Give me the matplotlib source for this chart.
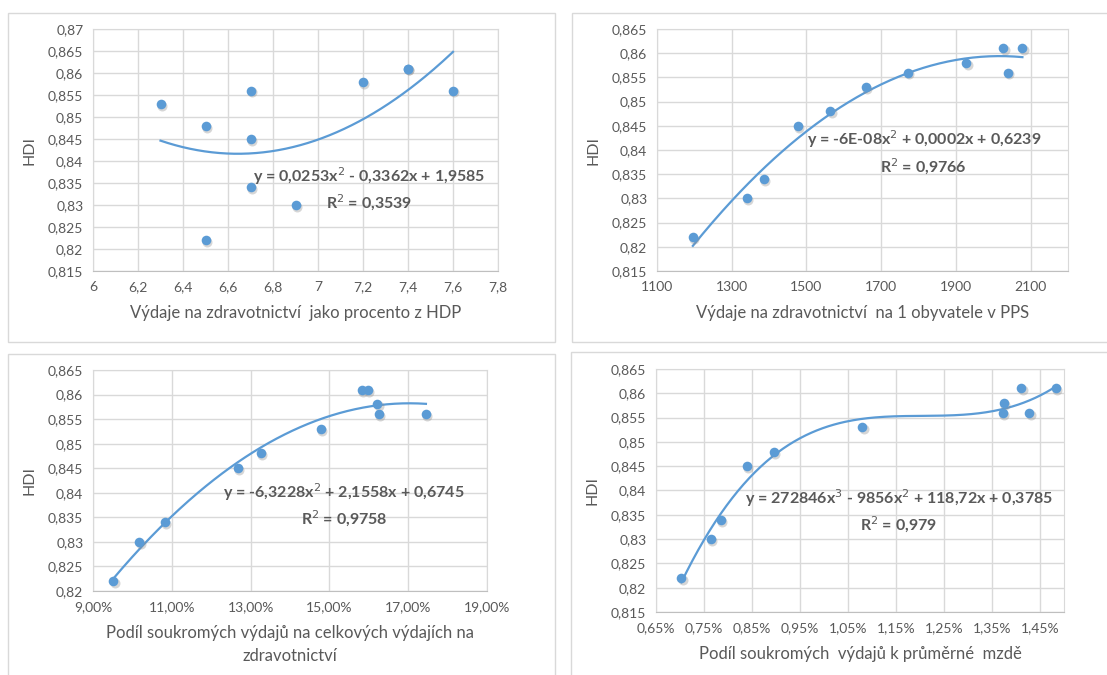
import numpy as np
import matplotlib
matplotlib.use("Agg")
import matplotlib.pyplot as plt
from matplotlib.patches import Rectangle
from matplotlib.ticker import FuncFormatter, MultipleLocator

plt.rcParams['font.family'] = ['Lato', 'DejaVu Sans']

# HDI values shared by all four charts
hdi = [0.822, 0.830, 0.834, 0.845, 0.848, 0.853, 0.856, 0.858, 0.861, 0.856, 0.861]

# x values of each chart (same country order as hdi)
pct_hdp = [6.5, 6.9, 6.7, 6.7, 6.5, 6.3, 6.7, 7.2, 7.4, 7.6, 7.4]
per_capita = [1196, 1341, 1387, 1477, 1564, 1660, 1772, 1928, 2027, 2040, 2078]
private_share = [0.0952, 0.1018, 0.1082, 0.1267, 0.1327, 0.1479, 0.1625, 0.1622, 0.1582, 0.1745, 0.1597]
private_wage = [0.00703, 0.00765, 0.00785, 0.00839, 0.00896, 0.01080, 0.01372, 0.01374, 0.01411, 0.01428, 0.01483]

eq_texts = ["y = 0,0253x$^2$ - 0,3362x + 1,9585\nR$^2$ = 0,3539",
            "y = -6E-08x$^2$ + 0,0002x + 0,6239\nR$^2$ = 0,9766",
            "y = -6,3228x$^2$ + 2,1558x + 0,6745\nR$^2$ = 0,9758",
            "y = 272846x$^3$ - 9856x$^2$ + 118,72x + 0,3785\nR$^2$ = 0,979"]
xlabels = ["Výdaje na zdravotnictví  jako procento z HDP",
           "Výdaje na zdravotnictví  na 1 obyvatele v PPS",
           "Podíl soukromých výdajů na celkových výdajích na\nzdravotnictví",
           "Podíl soukromých  výdajů k průměrné  mzdě"]

blue = "#5B9BD5"
grid_c = "#D9D9D9"
txt_c = "#595959"

W, H = 1107, 675
fig = plt.figure(figsize=(W / 100, H / 100), dpi=100)

# chart frames (pixels: x0, y0, x1, y1)
for x0, y0, x1, y1 in [(8, 13, 555, 342), (572, 13, 1112, 342),
                       (8, 354, 555, 680), (571, 352, 1112, 680)]:
    fig.add_artist(Rectangle((x0 / W, 1 - y1 / H), (x1 - x0) / W, (y1 - y0) / H,
                             transform=fig.transFigure, fill=False,
                             edgecolor="#D9D9D9", lw=1))


def comma(fmt):
    return FuncFormatter(lambda v, p: fmt(v).replace(".", ","))


def add_panel(rect_px, x, xlim, xstep, nticks, ylim, deg, xfmt, eq_pos, xlabel, eq):
    x0, y0, x1, y1 = rect_px
    ax = fig.add_axes([x0 / W, 1 - y1 / H, (x1 - x0) / W, (y1 - y0) / H])
    ax.set_xlim(*xlim)
    ax.set_ylim(*ylim)
    ax.set_xticks(xlim[0] + xstep * np.arange(nticks))
    ax.yaxis.set_major_locator(MultipleLocator(0.005))
    ax.xaxis.set_major_formatter(xfmt)
    ax.yaxis.set_major_formatter(comma(lambda v: f"{v:.3f}".rstrip("0")))
    ax.grid(True, color=grid_c, lw=1)
    ax.set_axisbelow(True)
    for s in ax.spines.values():
        s.set_color(grid_c)
    ax.spines['bottom'].set_color("#BFBFBF")
    ax.tick_params(length=0, labelsize=10, labelcolor=txt_c, pad=7)
    xs = np.array(x)
    coef = np.polyfit(xs, hdi, deg)
    xx = np.linspace(xs.min(), xs.max(), 200)
    ax.plot(xx, np.polyval(coef, xx), color=blue, lw=1.6, zorder=2)
    ax.scatter(xs + (xlim[1] - xlim[0]) * 0.003, np.array(hdi) - 0.0004, s=52,
               color="#8c8c8c", alpha=0.35, lw=0, zorder=3)
    ax.scatter(xs, hdi, s=48, color=blue, lw=0, zorder=4)
    ax.text(eq_pos[0], eq_pos[1], eq, ha="center", va="center", fontsize=11.5,
            fontweight="bold", color=txt_c, linespacing=1.4, zorder=5)
    ax.set_ylabel("HDI", fontsize=11.5, color=txt_c, labelpad=8)
    ax.set_xlabel(xlabel, fontsize=12, color=txt_c, labelpad=9, linespacing=1.5)
    return ax


add_panel((93, 29, 498, 271), pct_hdp, (6, 7.8), 0.2, 10, (0.815, 0.87), 2,
          comma(lambda v: f"{v:.1f}".rstrip("0").rstrip(".")),
          (7.227, 0.8336), xlabels[0], eq_texts[0])
add_panel((657, 29, 1068, 271), per_capita, (1100, 2200), 200, 6, (0.815, 0.865), 2,
          FuncFormatter(lambda v, p: f"{v:.0f}"),
          (1814, 0.8395), xlabels[1], eq_texts[1])
add_panel((93, 370, 487, 591), private_share, (0.09, 0.19), 0.02, 6, (0.82, 0.865), 2,
          comma(lambda v: f"{v * 100:.2f}%"),
          (0.1537, 0.8375), xlabels[2], eq_texts[2])
add_panel((656, 369, 1064, 612), private_wage, (0.0065, 0.015), 0.001, 9, (0.815, 0.865), 3,
          comma(lambda v: f"{v * 100:.2f}%"),
          (0.01156, 0.8357), xlabels[3], eq_texts[3])

fig.savefig("out.png", dpi=100, facecolor="white")
